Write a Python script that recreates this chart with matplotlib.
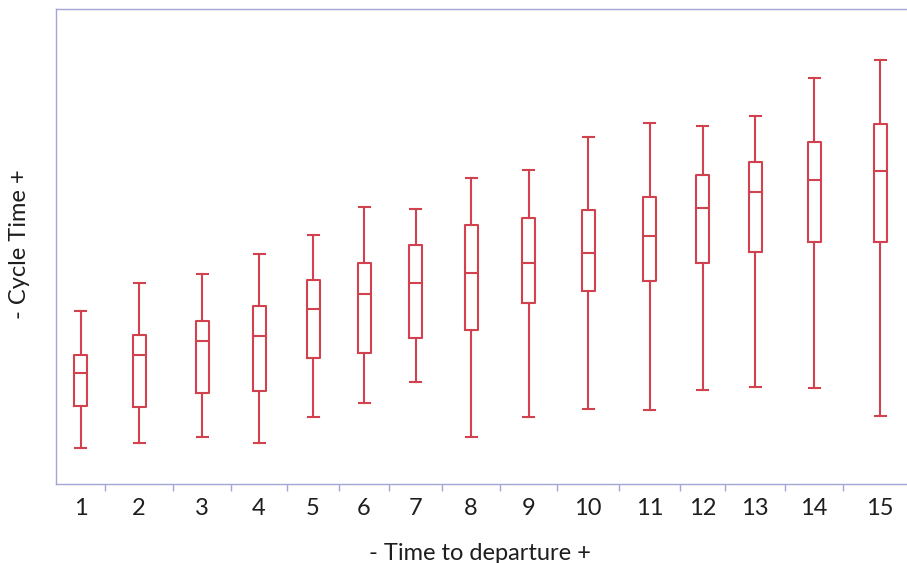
import numpy as np
import matplotlib
matplotlib.use("Agg")
import matplotlib.pyplot as plt

# group labels and relative group sizes (JMP scales category width by count)
groups = [str(i) for i in range(1, 16)]
group_n = [49, 68, 58, 56, 52, 50, 53, 58, 57, 62, 61, 45, 60, 58, 74]

# box statistics (arbitrary cycle-time units)
whisk_lo = [36, 41, 47, 41, 67, 81, 102, 47, 67, 75, 74, 94, 97, 96, 68]
q1 = [78, 77, 91, 93, 126, 131, 146, 154, 181, 193, 203, 221, 232, 242, 242]
med = [111, 129, 143, 148, 175, 190, 201, 211, 221, 231, 248, 276, 292, 304, 313]
q3 = [129, 149, 163, 178, 204, 221, 239, 259, 266, 274, 287, 309, 322, 342, 360]
whisk_hi = [173, 201, 210, 230, 249, 277, 275, 306, 314, 347, 361, 358, 368, 406, 424]

red = "#d2424e"
frame = "#a3a6d4"
txt = "#1e1e1e"

edges = np.concatenate([[0], np.cumsum(group_n)])
centers = (edges[:-1] + edges[1:]) / 2

stats = []
for i in range(len(groups)):
    stats.append(dict(whislo=whisk_lo[i], q1=q1[i], med=med[i], q3=q3[i],
                      whishi=whisk_hi[i], fliers=[]))

fig = plt.figure(figsize=(9.07, 5.63), dpi=100)
ax = fig.add_axes([56 / 907, 79 / 563, 861 / 907, 475 / 563])

lw = 1.5
ax.bxp(stats, positions=centers, widths=13, capwidths=11, showfliers=False,
       boxprops=dict(color=red, linewidth=lw),
       whiskerprops=dict(color=red, linewidth=lw),
       capprops=dict(color=red, linewidth=lw),
       medianprops=dict(color=red, linewidth=lw))

ax.set_xlim(edges[0], edges[-1])
ax.set_ylim(0, 475)

ax.set_xticks(centers)
ax.set_xticklabels(groups)
ax.set_xticks(edges[1:-1], minor=True)
ax.tick_params(axis="x", which="major", length=0, pad=10, labelsize=17,
               labelcolor=txt)
ax.tick_params(axis="x", which="minor", length=5, width=1, color=frame)
ax.set_yticks([])

for s in ax.spines.values():
    s.set_color(frame)
    s.set_linewidth(1)
ax.spines["right"].set_visible(False)

ax.set_xlabel("- Time to departure +", fontsize=17, color=txt, va="center")
ax.set_ylabel("- Cycle Time +", fontsize=17, color=txt, va="center")
ax.xaxis.set_label_coords((480 - 56) / 861, -69 / 475)
ax.yaxis.set_label_coords(-36 / 861, 240 / 475)

for t in ax.get_xticklabels() + [ax.xaxis.label, ax.yaxis.label]:
    t.set_family(["Lato", "DejaVu Sans"])

fig.savefig("out.png", dpi=100)
